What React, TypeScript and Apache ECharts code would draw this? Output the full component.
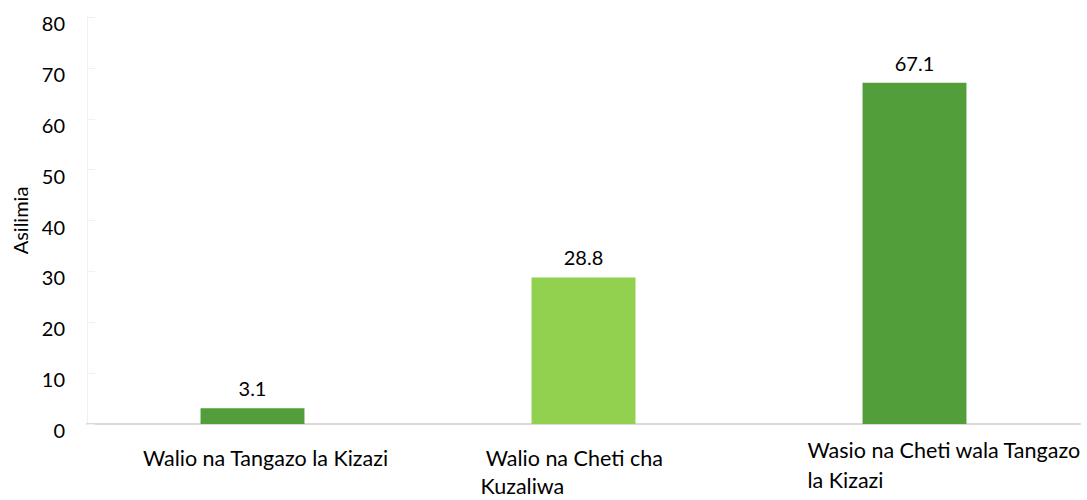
import React, { useEffect, useRef } from "react";
import * as echarts from "echarts";

const categories = [
  "Walio na Tangazo la Kizazi",
  "Walio na Cheti cha Kuzaliwa",
  "Wasio na Cheti wala Tangazo la Kizazi",
];
const values = [3.1, 28.8, 67.1];
const barColors = ["#529E3A", "#92D050", "#529E3A"];
const yTicks = { min: 0, max: 80, interval: 10 };
const yAxisName = "Asilimia";

const FONT = "Lato, 'Open Sans', sans-serif";
const CAT_SIZE = 21.5;

export default function App() {
  const ref = useRef<HTMLDivElement>(null);
  useEffect(() => {
    document.body.style.margin = "0";
    const chart = echarts.init(ref.current!, undefined, { renderer: "svg" });
    chart.setOption({
      animation: false,
      backgroundColor: "#ffffff",
      grid: {
        left: 87,
        right: 7,
        top: 17,
        bottom: 76,
        containLabel: false,
        outerBoundsMode: "none",
      },
      xAxis: {
        type: "category",
        data: [
          { value: categories[0], textStyle: { padding: [9, 0, 0, 26] } },
          { value: categories[1], textStyle: { padding: [9, 6, 0, 0] } },
          { value: categories[2], textStyle: { padding: [0, 0, 0, 76] } },
        ],
        axisLine: { lineStyle: { color: "#d9d9d9", width: 2 } },
        axisTick: { show: false },
        axisLabel: {
          interval: 0,
          hideOverlap: false,
          margin: 11,
          color: "#000000",
          fontFamily: FONT,
          fontSize: CAT_SIZE,
          lineHeight: 28,
          formatter: (val: string, idx: number) => {
            if (idx === 1) return "{l2|\u00a0Walio na Cheti cha}\n{l2|Kuzaliwa}";
            if (idx === 2) return "{l3|Wasio na Cheti wala Tangazo}\n{l3|la Kizazi}";
            return val;
          },
          rich: {
            l2: { width: 200, align: "left", fontSize: CAT_SIZE, lineHeight: 28, fontFamily: FONT, color: "#000" },
            l3: { width: 290, align: "left", fontSize: CAT_SIZE, lineHeight: 30, fontFamily: FONT, color: "#000" },
          },
        },
      },
      yAxis: {
        type: "value",
        min: yTicks.min,
        max: yTicks.max,
        interval: yTicks.interval,
        name: yAxisName,
        nameLocation: "middle",
        nameGap: 57,
        nameRotate: 90,
        nameTextStyle: { color: "#000", fontFamily: FONT, fontSize: 20 },
        axisLine: { show: true, lineStyle: { color: "#f0f0f0", width: 1 } },
        axisTick: { show: true, inside: true, length: 8, lineStyle: { color: "#f0f0f0" } },
        splitLine: { show: false },
        axisLabel: {
          color: "#000",
          fontFamily: FONT,
          fontSize: 20,
          margin: 22,
          verticalAlign: "top",
          lineHeight: 12,
        },
      },
      series: [
        {
          type: "bar",
          data: values.map((v, i) => ({ value: v, itemStyle: { color: barColors[i] } })),
          barWidth: "31.4%",
          label: {
            show: true,
            position: "top",
            distance: 10,
            color: "#000",
            fontFamily: FONT,
            fontSize: 20,
            formatter: (p: any) => p.value.toFixed(1),
          },
        },
      ],
    });
    return () => chart.dispose();
  }, []);
  return <div ref={ref} style={{ width: 1087, height: 500 }} />;
}
